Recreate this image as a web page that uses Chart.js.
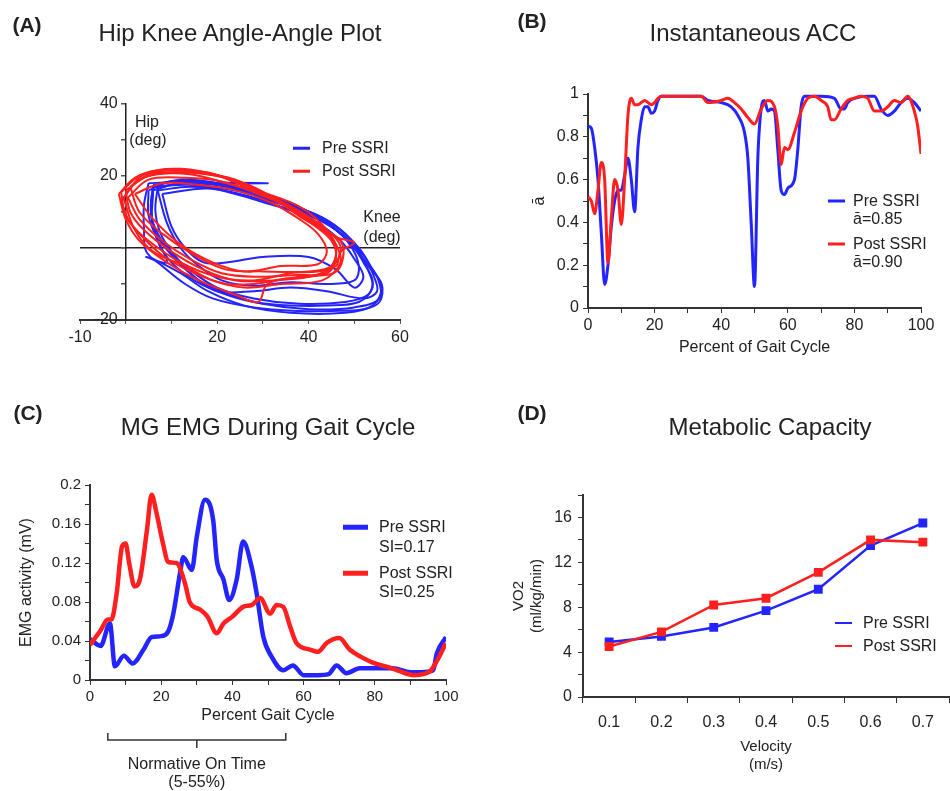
<!DOCTYPE html>
<html>
<head>
<meta charset="utf-8">
<title>SSRI gait figure</title>
<script src="https://cdn.jsdelivr.net/npm/chart.js@4.4.1/dist/chart.umd.min.js"></script>
<style>
  html, body { margin: 0; padding: 0; background: #fff; }
  body { position: relative; width: 950px; height: 791px; overflow: hidden;
         font-family: "Liberation Sans", Arial, sans-serif; color: #222; }
  canvas { position: absolute; }
  .c { position: absolute; white-space: nowrap; transform: translate(-50%, -50%); }
  .l { position: absolute; white-space: nowrap; transform: translateY(-50%); font-size: 16px; }
  .sw { position: absolute; transform: translateY(-50%); }
  .tag { font-weight: bold; font-size: 21px; }
  .ttl { font-size: 24px; }
  .ax { font-size: 16px; }
</style>
</head>
<body>
<canvas id="chartA" width="475" height="380" style="left:0;top:0"></canvas>
<canvas id="chartB" width="475" height="380" style="left:475px;top:0"></canvas>
<canvas id="chartC" width="475" height="411" style="left:0;top:380px"></canvas>
<canvas id="chartD" width="481" height="411" style="left:475px;top:380px"></canvas>

<!-- panel letters + titles -->
<div class="c tag" style="left:27px;top:25px">(A)</div>
<div class="c ttl" style="left:240px;top:33px">Hip Knee Angle-Angle Plot</div>
<div class="c tag" style="left:532px;top:21px">(B)</div>
<div class="c ttl" style="left:753px;top:33px">Instantaneous ACC</div>
<div class="c tag" style="left:28px;top:413px">(C)</div>
<div class="c ttl" style="left:268px;top:427px">MG EMG During Gait Cycle</div>
<div class="c tag" style="left:532px;top:413px">(D)</div>
<div class="c ttl" style="left:770px;top:427px">Metabolic Capacity</div>

<!-- panel A axis names -->
<div class="c ax" style="left:147px;top:122px">Hip</div>
<div class="c ax" style="left:148px;top:140px">(deg)</div>
<div class="c ax" style="left:382px;top:217px">Knee</div>
<div class="c ax" style="left:382px;top:237px">(deg)</div>

<!-- legends -->
<div class="sw" style="left:293px;top:148px;width:17px;height:2.5px;background:#2424ff"></div>
<div class="l" style="left:322px;top:148px">Pre SSRI</div>
<div class="sw" style="left:293px;top:171px;width:17px;height:2.5px;background:#ff1f1f"></div>
<div class="l" style="left:322px;top:171px">Post SSRI</div>

<div class="sw" style="left:828px;top:201px;width:17px;height:3px;background:#2424ff"></div>
<div class="l" style="left:853px;top:201px">Pre SSRI</div>
<div class="l" style="left:853px;top:219px">ā=0.85</div>
<div class="sw" style="left:828px;top:244px;width:17px;height:3px;background:#ff1f1f"></div>
<div class="l" style="left:853px;top:244px">Post SSRI</div>
<div class="l" style="left:853px;top:262px">ā=0.90</div>

<div class="sw" style="left:343px;top:527px;width:25px;height:4.5px;background:#2424ff"></div>
<div class="l" style="left:379px;top:527px">Pre SSRI</div>
<div class="l" style="left:379px;top:547px">SI=0.17</div>
<div class="sw" style="left:343px;top:573px;width:25px;height:4.5px;background:#ff1f1f"></div>
<div class="l" style="left:379px;top:573px">Post SSRI</div>
<div class="l" style="left:379px;top:592px">SI=0.25</div>

<div class="sw" style="left:835px;top:623px;width:17px;height:2px;background:#2424ff"></div>
<div class="l" style="left:863px;top:623px">Pre SSRI</div>
<div class="sw" style="left:835px;top:646px;width:17px;height:2px;background:#ff1f1f"></div>
<div class="l" style="left:863px;top:646px">Post SSRI</div>

<script>
// ---------- (A) hip-knee loops: [knee, hip] in degrees ----------
const preLoop1 = [[5,18],[16,18.5],[25,16],[31,13.5],[38,11],[43,8],[47,4],[50,0],[53,-5],[56,-10],[55.5,-15],[52,-17],[45,-17.5],[38,-17.5],[28,-16.5],[19,-14],[13,-10],[8,-5],[4.5,-1],[4,5],[4,12],[5,18]];
const preLoop2 = [[6,17],[15,17.5],[24,15],[32,12],[40,9],[46,5],[50,0],[52,-4],[54,-9],[53,-13],[48,-15],[38,-15.5],[28,-14],[20,-11],[14,-6],[9,0],[6,7],[5.5,12],[6,17]];
const preLoop3 = [[8,15],[18,16.5],[28,14],[36,10.5],[42,7],[47,2],[50,-3],[52,-8],[50,-11],[46,-6],[40,-2.5],[30,-2.5],[22,-4],[17,-4],[13,0],[10,6],[8,15]];
const preLoop4 = [[6,16],[12,18],[22,17],[30,14],[40,10],[48,3],[52,-2],[54,-7],[55,-12],[52,-14],[44,-12],[36,-11],[28,-12],[20,-12],[15,-8],[10,-2],[6,6],[6,16]];
const preLoop5 = [[7,17],[14,18],[31,18],[22,17.5],[30,15],[37,12],[44,7],[49,2],[52,-3],[55,-8],[55.5,-14],[50,-16.5],[40,-17],[30,-15.5],[22,-12.5],[16,-9],[12,-4],[8,3],[6.5,10],[7,17]];
const preLoop6 = [[5,16],[10,18.5],[20,18],[28,15.5],[35,12.5],[42,9],[47,5],[51,0],[54,-6],[56,-11],[54,-16],[48,-18],[36,-18],[26,-16],[18,-12],[12,-7],[6,-3],[4.5,-2.5],[9,-4],[7,2],[5,9],[5,16]];
const preLoop7 = [[6,17.5],[13,19],[22,17.5],[29,15],[36,12],[43,8.5],[48,4],[51,-1],[53,-6],[54,-11],[51,-15],[44,-16],[36,-16],[28,-15],[21,-12.5],[15,-9],[10,-4],[7,2],[5.5,10],[6,17.5]];
const preLoop8 = [[7,16],[14,17],[24,16],[32,13],[39,10],[45,6],[49,1],[51,-5],[50,-9],[44,-10],[36,-9.5],[28,-10.5],[21,-9],[16,-5],[12,0],[9,7],[7,16]];

const postLoop1 = [[-1.5,15],[2,19.5],[7,21.5],[16,21],[24,19],[31,14.5],[38,10],[43,5.5],[47,2],[47.5,-3],[45.5,-7],[38,-8],[31,-10],[29,-15],[24,-13],[16,-9],[9,-4],[3,2],[0,8],[-1.5,15]];
const postLoop2 = [[-1,13],[3,19],[10,21],[20,20],[28,16],[35,12],[41,7],[45,3],[46,-2],[44,-6],[36,-7],[28,-9],[20,-8],[12,-4],[5,2],[1,7],[-1,13]];
const postLoop3 = [[0,16],[5,20],[14,20.5],[22,18],[30,15],[37,11],[42,7],[46,3],[50,1.5],[47,-1],[46,-5],[40,-8],[32,-9],[24,-9],[17,-6],[10,-1],[4,5],[1,10],[0,16]];
const postLoop4 = [[1,17],[6,21],[18,21],[26,17],[33,13],[39,8],[44,4],[46,0],[45,-5],[40,-6.5],[30,-6.5],[22,-6],[15,-2],[8,4],[3,10],[1,17]];
const postLoop5 = [[-0.5,14],[4,20.5],[12,22],[22,19.5],[30,15.5],[38,11.5],[43,6.5],[46,1],[47,-4],[43,-9],[34,-10],[26,-11],[19,-9],[13,-5],[6,-1],[2,5],[-0.5,14]];
const postLoop6 = [[2,15],[8,18],[16,17.5],[24,16],[32,12.5],[38,8],[42,4],[44,-1],[42,-4.5],[34,-5],[26,-6.5],[19,-4],[12,1],[6,8],[2,15]];
const postLoop7 = [[-1,15.5],[3,20],[9,21],[18,20.5],[26,18],[33,13.5],[39,9],[44,5],[47,0.5],[46,-4],[42,-7.5],[35,-8.5],[28,-10],[22,-10],[15,-7],[8,-2],[3,4],[0,9],[-1,15.5]];
const postLoop8 = [[0.5,14],[5,19],[13,19.5],[21,18.5],[29,15],[36,11],[41,6.5],[45,2],[46,-3],[44,-7],[37,-7.5],[29,-8],[21,-7],[14,-3],[8,2],[3,8],[0.5,14]];

// ---------- (B) instantaneous ACC ----------
const accPctPre = [0,1,2,3,4,5,6,7,8,9,10,11,12,13,14,15,16,17,18,19,20,21,22,25,30,34,36,40,43,45,47,48,49,50,51,52,53,54,55,56,57,58,59,60,62,63,64,65,70,74,76,77,78,80,84,86,88,90,92,94,96,98,100];
const accPre    = [0.85,0.84,0.75,0.6,0.35,0.11,0.2,0.38,0.5,0.55,0.55,0.62,0.7,0.6,0.45,0.75,0.88,0.94,0.94,0.91,0.92,0.97,0.99,0.99,0.99,0.99,0.97,0.96,0.94,0.9,0.82,0.7,0.4,0.1,0.7,0.93,0.97,0.92,0.93,0.92,0.74,0.55,0.53,0.56,0.6,0.74,0.94,0.99,0.99,0.98,0.93,0.93,0.96,0.98,0.99,0.99,0.93,0.9,0.92,0.96,0.98,0.96,0.92];
const accPctPost = [0,1,2,3,4,5,6,7,8,9,10,11,12,13,14,15,16,17,18,19,20,21,22,30,34,36,40,42,44,46,48,50,52,54,56,57,58,59,60,62,64,66,68,70,72,73,74,76,78,80,82,84,86,88,90,92,94,96,98,99,100];
const accPost    = [0.52,0.5,0.44,0.55,0.68,0.6,0.21,0.42,0.6,0.55,0.39,0.6,0.9,0.98,0.95,0.95,0.96,0.97,0.96,0.95,0.96,0.98,0.99,0.99,0.99,0.96,0.97,0.98,0.96,0.93,0.89,0.86,0.93,0.97,0.94,0.85,0.67,0.75,0.74,0.82,0.92,0.98,0.99,0.97,0.94,0.88,0.88,0.93,0.97,0.98,0.99,0.98,0.92,0.92,0.94,0.97,0.96,0.99,0.92,0.85,0.72];

// ---------- (C) MG EMG ----------
const emgPctPre = [0,3,5.6,7,9.5,12,15,17.3,20,22,23.4,25.3,26.2,28.6,30,32.3,34.6,35.6,37.5,39.1,41.2,43,45.4,46.8,48.7,51,54.3,57,60,64,67,69.3,72,75.8,80,85,90,93,96.4,97.4,100];
const emgPre    = [0.042,0.035,0.058,0.014,0.025,0.017,0.031,0.044,0.045,0.05,0.068,0.11,0.126,0.113,0.147,0.185,0.164,0.123,0.103,0.082,0.103,0.142,0.116,0.089,0.044,0.024,0.01,0.015,0.005,0.005,0.006,0.015,0.007,0.012,0.012,0.012,0.008,0.008,0.01,0.027,0.044];
const emgPctPost = [0,3,5,6,7.5,9,10,11,12.5,14,16,17.3,18.7,20.5,22,24.3,26.7,28,31,33,35.6,37.5,40,43,45.5,47.8,50.6,52.4,54.3,56.2,58,62,64,66.5,70,73,76,80,84,87,91,95.5,97.5,100];
const emgPost    = [0.036,0.051,0.062,0.062,0.089,0.137,0.14,0.12,0.096,0.103,0.154,0.19,0.171,0.14,0.121,0.12,0.099,0.08,0.072,0.065,0.048,0.058,0.065,0.075,0.077,0.084,0.068,0.077,0.075,0.055,0.038,0.031,0.029,0.038,0.043,0.031,0.024,0.017,0.013,0.009,0.005,0.009,0.02,0.038];
const normStart = 5, normEnd = 55;

// ---------- (D) metabolic capacity ----------
const velocities = ['0.1','0.2','0.3','0.4','0.5','0.6','0.7'];
const vo2Pre  = [4.9, 5.4, 6.2, 7.7, 9.6, 13.5, 15.5];
const vo2Post = [4.5, 5.8, 8.2, 8.8, 11.1, 14.0, 13.8];

// =========================================================
const BLUE = '#2424ff';
const RED = '#ff1f1f';
const INK = '#222';
const AXIS = '#333';

Chart.defaults.font.family = '"Liberation Sans", Arial, sans-serif';
Chart.defaults.color = INK;

const base = {
  responsive: false,
  animation: false,
  devicePixelRatio: 1,
  events: [],
  plugins: { legend: { display: false }, tooltip: { enabled: false } }
};

function xy(xs, ys) {
  return xs.map((x, i) => ({ x: x, y: ys[i] }));
}

function loopSet(pts, color, order) {
  return {
    data: pts.map(p => ({ x: p[0], y: p[1] })),
    showLine: true, borderColor: color, borderWidth: 2,
    pointRadius: 0, tension: 0.35, order: order
  };
}

// ---------- (A) ----------
const preLoops = [preLoop1, preLoop2, preLoop3, preLoop4, preLoop5, preLoop6, preLoop7, preLoop8];
const postLoops = [postLoop1, postLoop2, postLoop3, postLoop4, postLoop5, postLoop6, postLoop7, postLoop8];

new Chart(document.getElementById('chartA'), {
  type: 'scatter',
  data: {
    datasets: [
      ...postLoops.map(l => loopSet(l, RED, 1)),
      ...preLoops.map(l => loopSet(l, BLUE, 2))
    ]
  },
  options: {
    ...base,
    layout: { padding: { left: 80, right: 75, top: 104, bottom: 30 } },
    scales: {
      x: {
        type: 'linear', min: -10, max: 60,
        ticks: { stepSize: 10, autoSkip: false, maxRotation: 0, padding: 4, font: { size: 16 },
                 callback: v => [-10, 20, 40, 60].includes(v) ? String(v) : '' },
        grid: { drawOnChartArea: false, tickLength: 4, tickColor: '#555' },
        border: { color: AXIS, width: 2, dash: [2, 7] },
        afterFit: s => { s.height = 30; }
      },
      y: {
        type: 'linear', min: -20, max: 40, position: { x: 0 },
        // labels sit right on the axis when positioned by value, so pad with an en space
        ticks: { stepSize: 10, autoSkip: false, font: { size: 16 },
                 callback: v => [40, 20, -20].includes(v) ? String(v) + '\u2002' : '' },
        grid: { color: c => (c.tick && c.tick.value === 0) ? INK : 'rgba(0,0,0,0)',
                lineWidth: 1.5, tickLength: 4, tickColor: '#555' },
        border: { color: INK, width: 1.5 }
      }
    }
  }
});

// ---------- (B) ----------
new Chart(document.getElementById('chartB'), {
  type: 'line',
  data: {
    datasets: [
      { label: 'Post SSRI', data: xy(accPctPost, accPost), borderColor: RED, borderWidth: 3,
        pointRadius: 0, cubicInterpolationMode: 'monotone', order: 1 },
      { label: 'Pre SSRI', data: xy(accPctPre, accPre), borderColor: BLUE, borderWidth: 3,
        pointRadius: 0, cubicInterpolationMode: 'monotone', order: 2 }
    ]
  },
  options: {
    ...base,
    layout: { padding: { left: 55, right: 29, top: 94, bottom: 23 } },
    scales: {
      x: {
        type: 'linear', min: 0, max: 100,
        ticks: { stepSize: 10, autoSkip: false, maxRotation: 0, padding: 3, font: { size: 16 },
                 callback: v => v % 20 === 0 ? String(v) : '' },
        grid: { drawOnChartArea: false, tickLength: 5, tickColor: AXIS },
        border: { color: AXIS, width: 2 },
        title: { display: true, text: 'Percent of Gait Cycle', font: { size: 16 }, padding: 0 },
        afterFit: s => { s.height = 49; }
      },
      y: {
        type: 'linear', min: 0, max: 1,
        ticks: { stepSize: 0.1, autoSkip: false, padding: 4, font: { size: 16 },
                 callback: v => { const k = Math.round(v * 10); return k % 2 === 0 ? String(k / 10) : ''; } },
        grid: { drawOnChartArea: false, tickLength: 5, tickColor: AXIS },
        border: { color: AXIS, width: 2 },
        title: { display: true, text: 'ā', font: { size: 16 }, padding: 0 },
        afterFit: s => { s.width = 58; }
      }
    }
  }
});

// ---------- (C) ----------
const bracketPlugin = {
  id: 'normBracket',
  afterDraw(chart) {
    const sx = chart.scales.x;
    const ctx = chart.ctx;
    const x1 = sx.getPixelForValue(normStart);
    const x2 = sx.getPixelForValue(normEnd);
    const xm = (x1 + x2) / 2;
    ctx.save();
    ctx.strokeStyle = AXIS;
    ctx.lineWidth = 1.5;
    ctx.beginPath();
    ctx.moveTo(x1, 353); ctx.lineTo(x1, 360); ctx.lineTo(x2, 360); ctx.lineTo(x2, 353);
    ctx.moveTo(xm, 360); ctx.lineTo(xm, 368);
    ctx.stroke();
    ctx.fillStyle = INK;
    ctx.font = '16px "Liberation Sans", Arial, sans-serif';
    ctx.textAlign = 'center';
    ctx.textBaseline = 'middle';
    ctx.fillText('Normative On Time', xm, 385);
    ctx.fillText('(5-55%)', xm, 403);
    ctx.restore();
  }
};

new Chart(document.getElementById('chartC'), {
  type: 'line',
  data: {
    datasets: [
      { label: 'Post SSRI', data: xy(emgPctPost, emgPost), borderColor: RED, borderWidth: 4.5,
        pointRadius: 0, cubicInterpolationMode: 'monotone', order: 1 },
      { label: 'Pre SSRI', data: xy(emgPctPre, emgPre), borderColor: BLUE, borderWidth: 4.5,
        pointRadius: 0, cubicInterpolationMode: 'monotone', order: 2 }
    ]
  },
  options: {
    ...base,
    layout: { padding: { left: 17, right: 29, top: 105, bottom: 66 } },
    scales: {
      x: {
        type: 'linear', min: 0, max: 100,
        ticks: { stepSize: 10, autoSkip: false, maxRotation: 0, padding: 3, font: { size: 15 },
                 callback: v => v % 20 === 0 ? String(v) : '' },
        grid: { drawOnChartArea: false, tickLength: 5, tickColor: AXIS },
        border: { color: AXIS, width: 2 },
        title: { display: true, text: 'Percent Gait Cycle', font: { size: 16 }, padding: 0 },
        afterFit: s => { s.height = 45; }
      },
      y: {
        type: 'linear', min: 0, max: 0.2,
        ticks: { stepSize: 0.02, autoSkip: false, padding: 4, font: { size: 15 },
                 callback: v => { const k = Math.round(v * 100); return k % 4 === 0 ? String(k / 100) : ''; } },
        grid: { drawOnChartArea: false, tickLength: 5, tickColor: AXIS },
        border: { color: AXIS, width: 2 },
        title: { display: true, text: 'EMG activity (mV)', font: { size: 16 }, padding: 0 },
        afterFit: s => { s.width = 73; }
      }
    }
  },
  plugins: [bracketPlugin]
});

// ---------- (D) ----------
new Chart(document.getElementById('chartD'), {
  type: 'line',
  data: {
    labels: velocities,
    datasets: [
      { label: 'Post SSRI', data: vo2Post, borderColor: RED, backgroundColor: RED, borderWidth: 2.5,
        pointStyle: 'rect', pointRadius: 4.5, order: 1 },
      { label: 'Pre SSRI', data: vo2Pre, borderColor: BLUE, backgroundColor: BLUE, borderWidth: 2.5,
        pointStyle: 'rect', pointRadius: 4.5, order: 2 }
    ]
  },
  options: {
    ...base,
    layout: { padding: { left: 34, right: 0, top: 115, bottom: 17 } },
    scales: {
      x: {
        type: 'category', offset: true,
        ticks: { autoSkip: false, maxRotation: 0, padding: 10, font: { size: 16 } },
        grid: { offset: true, drawOnChartArea: false, tickLength: 6, tickColor: AXIS },
        border: { color: AXIS, width: 2 },
        title: { display: true, text: ['Velocity', '(m/s)'], font: { size: 15, lineHeight: 1.2 }, padding: 0 },
        afterFit: s => { s.height = 77; }
      },
      y: {
        type: 'linear', min: 0, max: 18,
        ticks: { stepSize: 2, autoSkip: false, padding: 6, font: { size: 16 },
                 callback: v => v % 4 === 0 ? String(v) : '' },
        grid: { drawOnChartArea: false, tickLength: 5, tickColor: AXIS },
        border: { color: AXIS, width: 2 },
        title: { display: true, text: ['VO2', '(ml/kg/min)'], font: { size: 15, lineHeight: 1.25 }, padding: 0 },
        afterFit: s => { s.width = 74; }
      }
    }
  }
});
</script>
</body>
</html>
